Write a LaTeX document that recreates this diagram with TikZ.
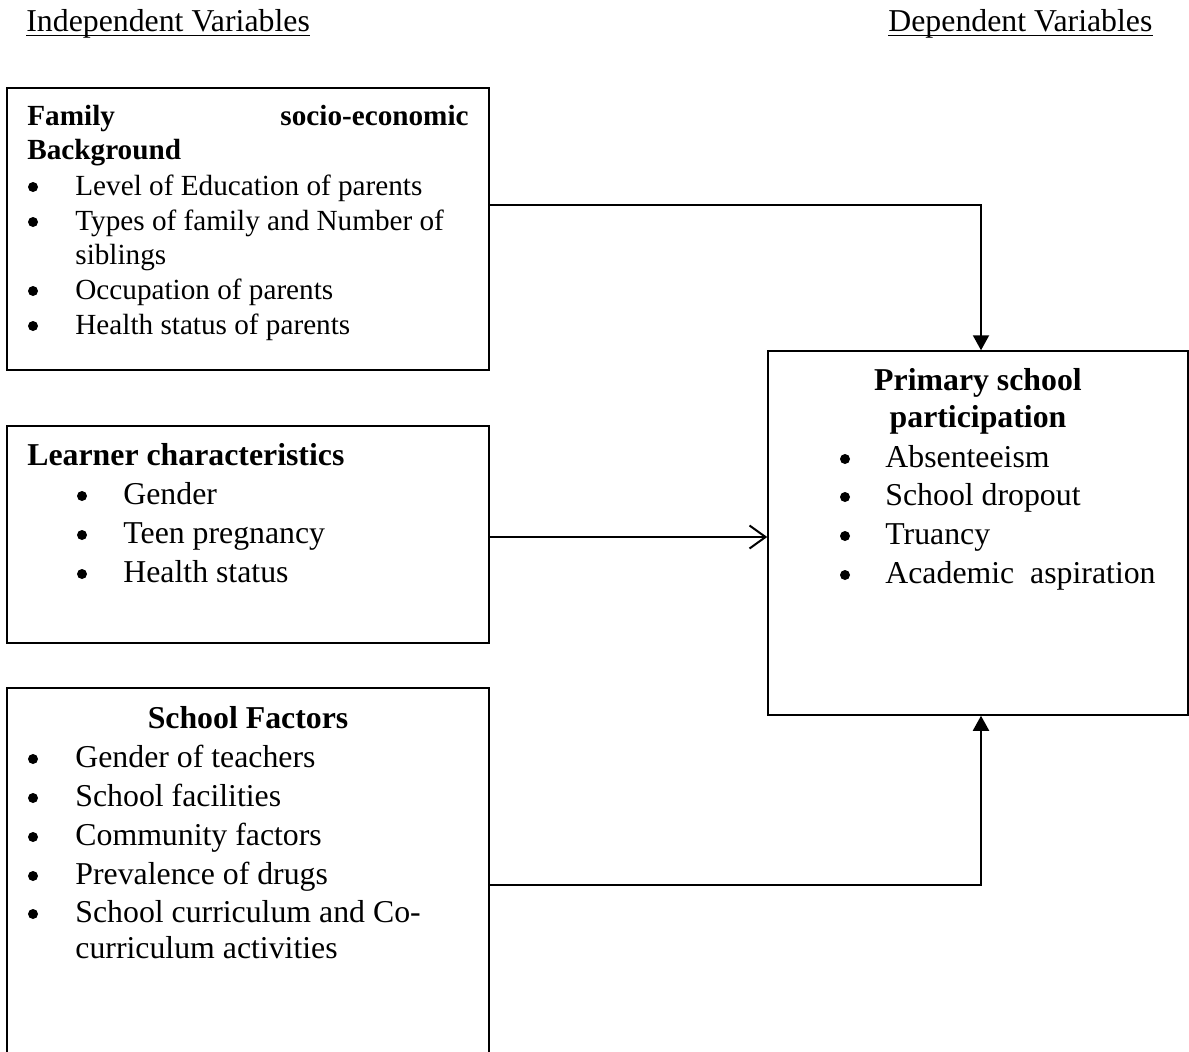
\documentclass[tikz,border=0pt]{standalone}
\usepackage{fontspec}
\setmainfont{Liberation Serif}
\usetikzlibrary{arrows.meta}
\tikzset{
  boxframe/.style={draw, line width=0.75pt, inner sep=0pt, fill=none},
  txt/.style={anchor=base west, inner sep=0pt},
  bul/.style={circle, fill=black, inner sep=0pt, minimum size=5pt, yshift=4pt},
  smallfont/.style={font=\fontsize{14.6pt}{17.5pt}\selectfont},
  bigfont/.style={font=\fontsize{15.9pt}{19pt}\selectfont},
  conn/.style={line width=1pt},
  filledtip/.style={conn, -{Triangle[length=7.5pt,width=8pt]}},
  opentip/.style={conn, -{Straight Barb[length=8pt,width=11.5pt,line width=1pt]}},
}
\begin{document}
\begin{tikzpicture}[x=0.5pt,y=-0.5pt]
\useasboundingbox[fill=white] (0,0) rectangle (1189,1051);

% headers
\node[txt,bigfont] (ind) at (26,31) {Independent Variables};
\draw[line width=0.7pt] ([yshift=-2.2pt]ind.base west) -- ([yshift=-2.2pt]ind.base east);
\node[txt,bigfont] (dvar) at (888,31) {Dependent Variables};
\draw[line width=0.7pt] ([yshift=-2.2pt]dvar.base west) -- ([yshift=-2.2pt]dvar.base east);

% boxes
\node[boxframe, minimum width=241pt, minimum height=141pt] (fam) at (248,229) {};
\node[boxframe, minimum width=241pt, minimum height=108.5pt] (lrn) at (248,534.5) {};
\coordinate (schtl) at (7,688);
\coordinate (schtr) at (489,688);
\draw[line width=0.75pt] (7,1070) -- (schtl) -- (schtr) -- (489,1070);
\coordinate (schR) at (489,885);
\node[boxframe, minimum width=210pt, minimum height=182pt] (dep) at (978,533) {};

% box 1 text
\node[txt,font=\fontsize{14.6pt}{17.5pt}\selectfont\bfseries] (f1) at (27,125) {Family};
\node[anchor=base east,inner sep=0pt,font=\fontsize{14.6pt}{17.5pt}\selectfont\bfseries] (f1b) at (469,125) {socio-economic};
\node[txt,font=\fontsize{14.6pt}{17.5pt}\selectfont\bfseries] (f2) at (27,159) {Background};
\node[bul] (fb1) at (33,195) {};
\node[txt,smallfont] (ft1) at (75,195) {Level of Education of parents};
\node[bul] (fb2) at (33,230) {};
\node[txt,smallfont] (ft2) at (75,230) {Types of family and Number of};
\node[txt,smallfont] (ft2b) at (75,264) {siblings};
\node[bul] (fb3) at (33,299) {};
\node[txt,smallfont] (ft3) at (75,299) {Occupation of parents};
\node[bul] (fb4) at (33,334) {};
\node[txt,smallfont] (ft4) at (75,334) {Health status of parents};

% box 2 text
\node[txt,font=\fontsize{15.9pt}{19pt}\selectfont\bfseries] (l0) at (27,465) {Learner characteristics};
\node[bul] (lb1) at (82,504) {};
\node[txt,bigfont] (lt1) at (123,504) {Gender};
\node[bul] (lb2) at (82,543) {};
\node[txt,bigfont] (lt2) at (123,543) {Teen pregnancy};
\node[bul] (lb3) at (82,582) {};
\node[txt,bigfont] (lt3) at (123,582) {Health status};

% box 3 text
\node[anchor=base,inner sep=0pt,font=\fontsize{15.9pt}{19pt}\selectfont\bfseries] (s0) at (248,728) {School Factors};
\node[bul] (sb1) at (33,767) {};
\node[txt,bigfont] (st1) at (75,767) {Gender of teachers};
\node[bul] (sb2) at (33,806) {};
\node[txt,bigfont] (st2) at (75,806) {School facilities};
\node[bul] (sb3) at (33,845) {};
\node[txt,bigfont] (st3) at (75,845) {Community factors};
\node[bul] (sb4) at (33,884) {};
\node[txt,bigfont] (st4) at (75,884) {Prevalence of drugs};
\node[bul] (sb5) at (33,922) {};
\node[txt,bigfont] (st5) at (75,922) {School curriculum and Co-};
\node[txt,bigfont] (st5b) at (75,958) {curriculum activities};

% right box text
\node[anchor=base,inner sep=0pt,font=\fontsize{15.9pt}{19pt}\selectfont\bfseries] (d0) at (978,390) {Primary school};
\node[anchor=base,inner sep=0pt,font=\fontsize{15.9pt}{19pt}\selectfont\bfseries] (d0b) at (978,427) {participation};
\node[bul] (db1) at (845,467) {};
\node[txt,bigfont] (dt1) at (885,467) {Absenteeism};
\node[bul] (db2) at (845,505) {};
\node[txt,bigfont] (dt2) at (885,505) {School dropout};
\node[bul] (db3) at (845,544) {};
\node[txt,bigfont] (dt3) at (885,544) {Truancy};
\node[bul] (db4) at (845,583) {};
\node[txt,bigfont] (dt4) at (885,583) {Academic\ \ aspiration};

% connectors
\draw[filledtip] (fam.east |- 0,205) -| ([xshift=1.5pt]dep.north);
\draw[opentip] (lrn.east |- 0,537) -- (dep.west |- 0,537);
\draw[filledtip] (schR) -| ([xshift=1.5pt]dep.south);
\end{tikzpicture}
\end{document}
